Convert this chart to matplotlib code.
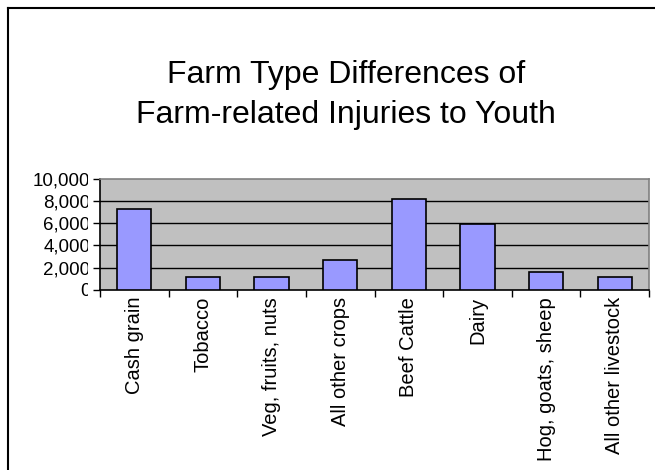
import matplotlib
matplotlib.use("Agg")
import matplotlib.pyplot as plt
from matplotlib.lines import Line2D
from matplotlib.ticker import FuncFormatter
from matplotlib.transforms import Bbox

categories = ["Cash grain", "Tobacco", "Veg, fruits, nuts", "All other crops",
              "Beef Cattle", "Dairy", "Hog, goats, sheep", "All other livestock"]
values = [7300, 1150, 1150, 2700, 8150, 5950, 1650, 1150]
yticks = [0, 2000, 4000, 6000, 8000, 10000]
title_lines = ["Farm Type Differences of", "Farm-related Injuries to Youth"]

plt.rcParams['font.family'] = ['Liberation Sans', 'DejaVu Sans']

fig = plt.figure(figsize=(6.55, 4.70), dpi=100)
W, H = 655, 470
ax = fig.add_axes([100 / W, 1 - 290 / H, 549 / W, 111.5 / H])
ax.set_facecolor('#C0C0C0')

x = list(range(len(categories)))
ax.bar(x, values, width=0.5, color='#9999FF', edgecolor='black', linewidth=1.2, zorder=3)

ax.set_xlim(-0.5, len(categories) - 0.5)
ax.set_ylim(0, 10000)
ax.set_yticks(yticks)
ax.yaxis.set_major_formatter(FuncFormatter(lambda v, p: f"{int(v):,}"))
for t in yticks[1:-1]:
    ax.axhline(t, color='black', linewidth=1, zorder=1)

ax.set_xticks([i - 0.5 for i in range(len(categories) + 1)], minor=False)
ax.set_xticklabels([])
ax.set_xticks(x, minor=True)
ax.set_xticklabels(categories, minor=True, rotation=90, fontsize=14.5)
ax.tick_params(axis='x', which='minor', length=0, pad=5)
ax.tick_params(axis='x', which='major', length=5, width=1, color='black', direction='out')
ax.tick_params(axis='y', length=5, width=1, direction='out', labelsize=13.5, pad=2)

clip = Bbox([[0, 0], [88, H]])
for lab in ax.get_yticklabels():
    lab.set_clip_box(clip)
    lab.set_clip_on(True)

for s in ['top', 'right']:
    ax.spines[s].set_color('#808080')
    ax.spines[s].set_linewidth(1.2)
for s in ['left', 'bottom']:
    ax.spines[s].set_color('black')
    ax.spines[s].set_linewidth(1.2)

fig.text(346 / W, 1 - 83 / H, title_lines[0], ha='center', va='baseline', fontsize=23)
fig.text(346 / W, 1 - 123 / H, title_lines[1], ha='center', va='baseline', fontsize=23)

# outer chart border (left and top edges)
fig.add_artist(Line2D([7.5 / W, 7.5 / W], [0, 1 - 7.5 / H], color='black', linewidth=1.5, transform=fig.transFigure))
fig.add_artist(Line2D([7.5 / W, 1], [1 - 7.5 / H, 1 - 7.5 / H], color='black', linewidth=1.5, transform=fig.transFigure))

fig.savefig('out.png', dpi=100)
